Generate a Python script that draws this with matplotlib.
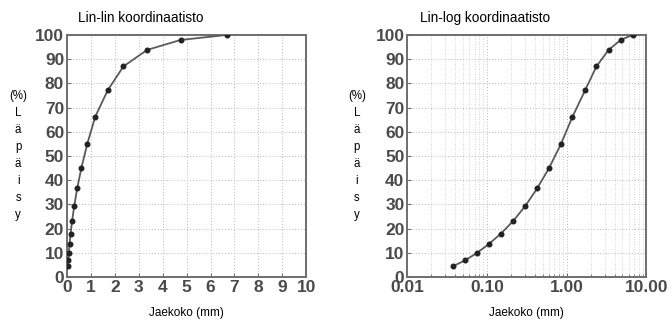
import matplotlib
matplotlib.use("Agg")
import matplotlib.pyplot as plt
from matplotlib.ticker import FixedLocator, LogLocator, NullFormatter

# sieve sizes (mm) and passing percentage
sizes = [0.038, 0.053, 0.075, 0.106, 0.150, 0.212, 0.300, 0.425, 0.600,
         0.850, 1.18, 1.70, 2.36, 3.35, 4.75, 6.70]
passing = [4.6, 6.9, 10.0, 13.7, 18.0, 23.1, 29.2, 36.6, 45.0,
           55.1, 66.2, 77.1, 87.0, 93.8, 97.9, 100.0]

lin_xticks = list(range(0, 11))
log_xticks = [0.01, 0.1, 1, 10]
log_xlabels = ["0.01", "0.10", "1.00", "10.00"]
yticks = list(range(0, 101, 10))

titles = ["Lin-lin koordinaatisto", "Lin-log koordinaatisto"]
xlabel = "Jaekoko (mm)"
ylabel = "(%)\nL\nä\np\nä\ni\ns\ny"

plt.rcParams["font.family"] = ["Liberation Sans", "DejaVu Sans"]
tick_color = "#4a4a4a"
frame_color = "#6e6e6e"

fig = plt.figure(figsize=(6.72, 3.2), dpi=100)
ax1 = fig.add_axes([0.0997, 0.134, 0.356, 0.757])
ax2 = fig.add_axes([0.606, 0.134, 0.356, 0.757])

for ax in (ax1, ax2):
    ax.plot(sizes, passing, color="#5a5a5a", lw=1.3, marker="o", ms=3.3,
            mfc="#222222", mec="#222222", zorder=3)
    ax.set_ylim(0, 100)
    ax.set_yticks(yticks)
    ax.tick_params(direction="in", length=3, width=0.8, colors=frame_color,
                   labelcolor=tick_color, labelsize=12.5, pad=2)
    ax.tick_params(which="minor", direction="in", length=2, colors=frame_color)
    for lab in ax.get_yticklabels():
        lab.set_fontweight("bold")
    for sp in ax.spines.values():
        sp.set_color(frame_color)
        sp.set_linewidth(1.4)
    ax.grid(True, which="major", ls=(0, (1, 2)), color="#b8b8b8", lw=0.7)
    ax.set_xlabel(xlabel, fontsize=8.5, labelpad=9)

ax1.set_xlim(0, 10)
ax1.set_xticks(lin_xticks)
for lab in ax1.get_xticklabels():
    lab.set_fontweight("bold")

ax2.set_xscale("log")
ax2.set_xlim(0.01, 10)
ax2.xaxis.set_major_locator(FixedLocator(log_xticks))
ax2.set_xticklabels(log_xlabels, fontweight="bold")
ax2.xaxis.set_minor_locator(LogLocator(base=10, subs=range(2, 10)))
ax2.xaxis.set_minor_formatter(NullFormatter())
ax2.grid(True, which="minor", axis="x", ls=(0, (1, 2)), color="#c8c8c8", lw=0.6)

fig.text(0.116, 0.93, titles[0], fontsize=9.8)
fig.text(0.625, 0.93, titles[1], fontsize=9.8)
fig.text(0.027, 0.515, ylabel, fontsize=8.3, ha="center", va="center",
         linespacing=1.55)
fig.text(0.531, 0.515, ylabel, fontsize=8.3, ha="center", va="center",
         linespacing=1.55)

fig.savefig("out.png", dpi=100)
